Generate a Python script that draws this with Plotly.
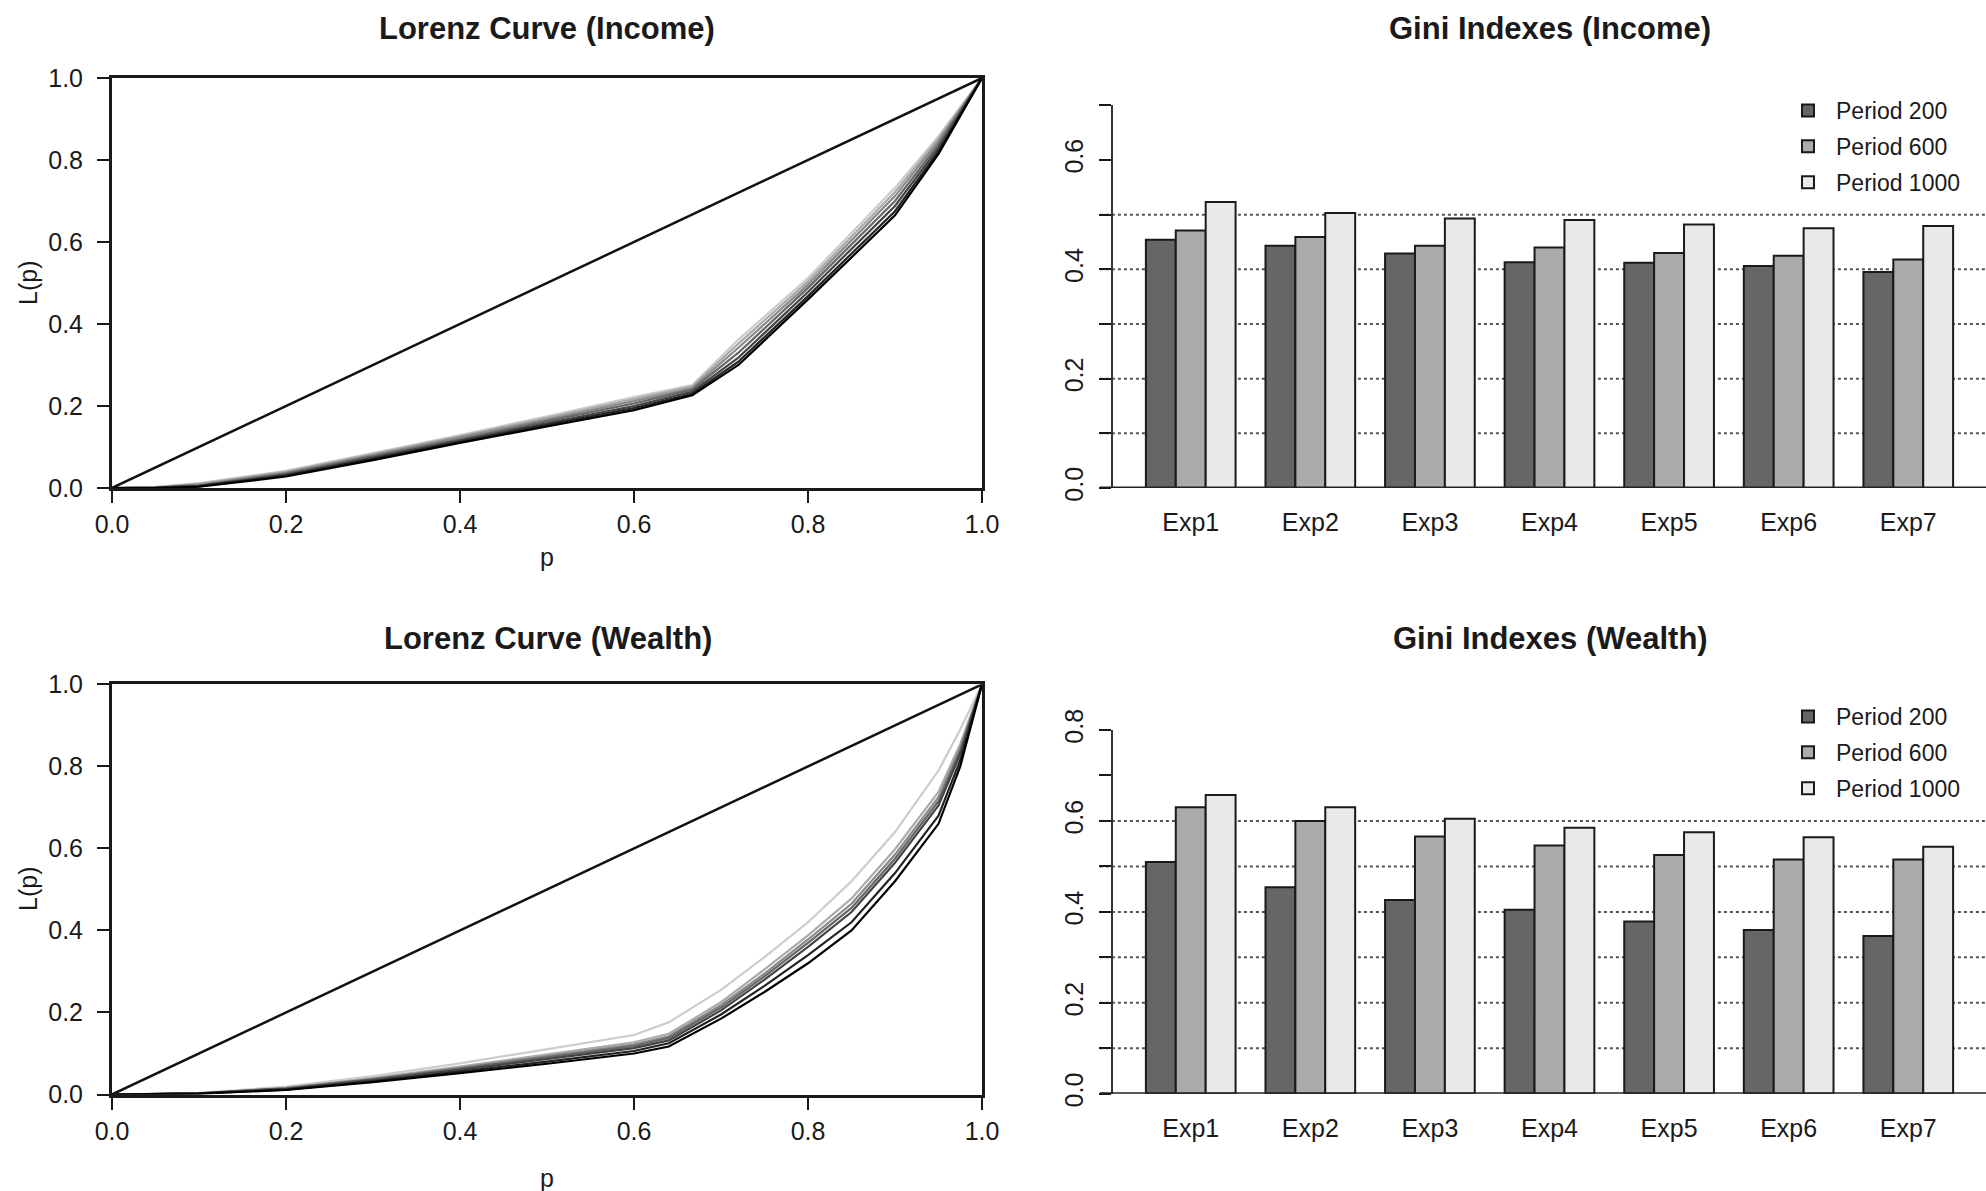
import plotly.graph_objects as go

W, H = 1986, 1191

# ---------------- data ----------------
EQUALITY_P = [0.0, 1.0]
EQUALITY_L = [0.0, 1.0]

P_INCOME = [0, 0.05, 0.1, 0.2, 0.3, 0.4, 0.5, 0.6, 0.667, 0.72, 0.8, 0.9, 0.95, 1.0]
L_INC_1 = [0, 0.000, 0.003, 0.028, 0.068, 0.110, 0.150, 0.190, 0.226, 0.300, 0.460, 0.665, 0.815, 1]
L_INC_2 = [0, 0.000, 0.004, 0.030, 0.071, 0.113, 0.154, 0.195, 0.230, 0.308, 0.468, 0.675, 0.822, 1]
L_INC_3 = [0, 0.001, 0.005, 0.032, 0.074, 0.116, 0.158, 0.200, 0.235, 0.318, 0.478, 0.688, 0.830, 1]
L_INC_4 = [0, 0.001, 0.006, 0.035, 0.077, 0.119, 0.163, 0.206, 0.240, 0.330, 0.488, 0.700, 0.838, 1]
L_INC_5 = [0, 0.001, 0.008, 0.037, 0.080, 0.123, 0.167, 0.212, 0.244, 0.342, 0.496, 0.712, 0.846, 1]
L_INC_6 = [0, 0.002, 0.010, 0.040, 0.083, 0.126, 0.171, 0.217, 0.248, 0.352, 0.504, 0.722, 0.852, 1]
L_INC_7 = [0, 0.002, 0.012, 0.042, 0.085, 0.129, 0.175, 0.222, 0.251, 0.362, 0.512, 0.732, 0.858, 1]

P_WEALTH = [0, 0.1, 0.2, 0.3, 0.4, 0.5, 0.6, 0.64, 0.7, 0.75, 0.8, 0.85, 0.9, 0.95, 0.975, 1.0]
L_WEA_1 = [0, 0.002, 0.011, 0.030, 0.052, 0.075, 0.100, 0.117, 0.185, 0.250, 0.320, 0.400, 0.520, 0.660, 0.800, 1]
L_WEA_2 = [0, 0.002, 0.012, 0.032, 0.056, 0.080, 0.106, 0.125, 0.195, 0.265, 0.340, 0.420, 0.540, 0.680, 0.815, 1]
L_WEA_3 = [0, 0.003, 0.014, 0.035, 0.060, 0.086, 0.113, 0.132, 0.205, 0.280, 0.360, 0.445, 0.565, 0.705, 0.830, 1]
L_WEA_4 = [0, 0.003, 0.015, 0.037, 0.063, 0.090, 0.118, 0.138, 0.212, 0.288, 0.370, 0.455, 0.575, 0.715, 0.838, 1]
L_WEA_5 = [0, 0.003, 0.015, 0.038, 0.065, 0.093, 0.122, 0.142, 0.218, 0.295, 0.378, 0.465, 0.585, 0.725, 0.845, 1]
L_WEA_6 = [0, 0.003, 0.016, 0.040, 0.068, 0.097, 0.127, 0.148, 0.225, 0.305, 0.388, 0.478, 0.598, 0.738, 0.855, 1]
L_WEA_7 = [0, 0.004, 0.019, 0.045, 0.076, 0.110, 0.145, 0.176, 0.255, 0.335, 0.420, 0.520, 0.640, 0.790, 0.890, 1]

EXPERIMENTS = ["Exp1", "Exp2", "Exp3", "Exp4", "Exp5", "Exp6", "Exp7"]
PERIODS = ["Period 200", "Period 600", "Period 1000"]
GINI_INC_P200 = [0.454, 0.443, 0.429, 0.413, 0.412, 0.406, 0.395]
GINI_INC_P600 = [0.471, 0.459, 0.443, 0.440, 0.430, 0.425, 0.418]
GINI_INC_P1000 = [0.523, 0.503, 0.493, 0.490, 0.482, 0.475, 0.479]
GINI_WEA_P200 = [0.510, 0.454, 0.426, 0.405, 0.379, 0.360, 0.347]
GINI_WEA_P600 = [0.630, 0.600, 0.566, 0.546, 0.525, 0.515, 0.515]
GINI_WEA_P1000 = [0.657, 0.630, 0.605, 0.585, 0.575, 0.564, 0.543]

# ---------------- styling ----------------
FONT = "Liberation Sans, Arial, Helvetica, sans-serif"
TXT = "#1a1a1a"
CURVE_GREYS = ["#cccccc", "#aaaaaa", "#888888", "#666666", "#444444", "#222222", "#000000"]
BAR_COLORS = ["#666666", "#ababab", "#e9e9e9"]


def px_x(v):
    return v / W


def px_y(v):
    return 1 - v / H


fig = go.Figure()

# Lorenz curves
inc_curves = [L_INC_7, L_INC_6, L_INC_5, L_INC_4, L_INC_3, L_INC_2, L_INC_1]
wea_curves = [L_WEA_7, L_WEA_6, L_WEA_5, L_WEA_4, L_WEA_3, L_WEA_2, L_WEA_1]
for xa, ya, pvals, curves in [("x", "y", P_INCOME, inc_curves), ("x3", "y3", P_WEALTH, wea_curves)]:
    for col, lv in zip(CURVE_GREYS, curves):
        fig.add_trace(go.Scatter(x=pvals, y=lv, mode="lines", xaxis=xa, yaxis=ya,
                                 line=dict(color=col, width=2.2), showlegend=False,
                                 hoverinfo="skip"))
    fig.add_trace(go.Scatter(x=EQUALITY_P, y=EQUALITY_L, mode="lines", xaxis=xa, yaxis=ya,
                             line=dict(color="#111111", width=2.5), showlegend=False,
                             hoverinfo="skip"))

# Gini bars
for xa, ya, leg, series in [("x2", "y2", "legend", [GINI_INC_P200, GINI_INC_P600, GINI_INC_P1000]),
                            ("x4", "y4", "legend2", [GINI_WEA_P200, GINI_WEA_P600, GINI_WEA_P1000])]:
    for name, col, vals in zip(PERIODS, BAR_COLORS, series):
        fig.add_trace(go.Bar(x=EXPERIMENTS, y=vals, name=name, xaxis=xa, yaxis=ya,
                             legend=leg, legendgroup=leg + name,
                             marker=dict(color=col, line=dict(color="#1a1a1a", width=2))))

tickfont = dict(family=FONT, size=25, color=TXT)

lorenz_x = dict(range=[0, 1], showline=True, mirror=True, linecolor="#1a1a1a", linewidth=3,
                ticks="outside", ticklen=12, tickwidth=2, tickcolor="#1a1a1a",
                tickvals=[0, 0.2, 0.4, 0.6, 0.8, 1.0], tickformat=".1f",
                tickfont=tickfont, showgrid=False, zeroline=False, automargin=False,
                ticklabelstandoff=0, domain=[px_x(112), px_x(982)])
lorenz_y = dict(range=[0, 1], showline=True, mirror=True, linecolor="#1a1a1a", linewidth=3,
                ticks="outside", ticklen=12, tickwidth=2, tickcolor="#1a1a1a",
                tickvals=[0, 0.2, 0.4, 0.6, 0.8, 1.0], tickformat=".1f",
                tickfont=tickfont, showgrid=False, zeroline=False, automargin=False,
                ticklabelstandoff=9)

bar_x = dict(type="category", range=[-0.65, 6.65], showline=False, ticks="",
             tickfont=tickfont, showgrid=False, zeroline=False, automargin=False,
             ticklabelstandoff=17, domain=[px_x(1113), 1.0])


def bar_y(top):
    n = int(round(top * 10))
    vals = [i / 10 for i in range(n + 1)]
    text = [("%.1f" % v) if i % 2 == 0 else "" for i, v in enumerate(vals)]
    return dict(range=[0, top], showline=True, linecolor="#333333", linewidth=2,
                ticks="outside", ticklen=12, tickwidth=2, tickcolor="#1a1a1a",
                tickvals=vals, ticktext=text, tickangle=-90,
                tickfont=tickfont, showgrid=False, zeroline=False, automargin=False,
                ticklabelstandoff=6)


legend_style = dict(xanchor="left", yanchor="top",
                    font=dict(family=FONT, size=23, color=TXT), bgcolor="rgba(0,0,0,0)",
                    itemwidth=46, tracegroupgap=3)

fig.update_layout(
    width=W, height=H,
    margin=dict(l=0, r=0, t=0, b=0, pad=0, autoexpand=False),
    paper_bgcolor="white", plot_bgcolor="white",
    font=dict(family=FONT, color=TXT),
    barmode="group", bargap=0.25, bargroupgap=0,
    xaxis=dict(lorenz_x, anchor="y"),
    yaxis=dict(lorenz_y, anchor="x", domain=[px_y(488), px_y(78)]),
    xaxis3=dict(lorenz_x, anchor="y3"),
    yaxis3=dict(lorenz_y, anchor="x3", domain=[px_y(1094.5), px_y(684.4)]),
    xaxis2=dict(bar_x, anchor="y2"),
    yaxis2=dict(bar_y(0.7), anchor="x2", domain=[px_y(488), px_y(105.3)]),
    xaxis4=dict(bar_x, anchor="y4"),
    yaxis4=dict(bar_y(0.8), anchor="x4", domain=[px_y(1093.8), px_y(730)]),
    legend=dict(legend_style, x=px_x(1780), y=px_y(89)),
    legend2=dict(legend_style, x=px_x(1780), y=px_y(695)),
)

# dotted reference lines and baselines in the bar panels
shapes = []
for xa, ya, levels in [("x2", "y2", [0.1, 0.2, 0.3, 0.4, 0.5]),
                       ("x4", "y4", [0.1, 0.2, 0.3, 0.4, 0.5, 0.6])]:
    for lv in levels:
        shapes.append(dict(type="line", xref=xa + " domain", yref=ya, x0=-0.015, x1=1,
                           y0=lv, y1=lv, layer="below",
                           line=dict(color="#555555", width=2, dash="3px,3px")))
    shapes.append(dict(type="line", xref=xa + " domain", yref=ya, x0=-0.015, x1=1,
                       y0=0, y1=0, layer="above",
                       line=dict(color="#222222", width=3)))
fig.update_layout(shapes=shapes)

# titles and axis labels
ann = []
for txt, x, y in [("Lorenz Curve (Income)", 547, 28.6), ("Gini Indexes (Income)", 1550, 28.6),
                  ("Lorenz Curve (Wealth)", 548, 638), ("Gini Indexes (Wealth)", 1550, 638)]:
    ann.append(dict(text="<b>%s</b>" % txt, x=px_x(x), y=px_y(y), xref="paper", yref="paper",
                    xanchor="center", yanchor="middle", showarrow=False,
                    font=dict(family=FONT, size=31, color=TXT)))
for y in [557, 1178]:
    ann.append(dict(text="p", x=px_x(547), y=px_y(y), xref="paper", yref="paper",
                    xanchor="center", yanchor="middle", showarrow=False,
                    font=dict(family=FONT, size=25, color=TXT)))
for y in [283, 889]:
    ann.append(dict(text="L(p)", x=px_x(28), y=px_y(y), xref="paper", yref="paper",
                    xanchor="center", yanchor="middle", showarrow=False, textangle=-90,
                    font=dict(family=FONT, size=25, color=TXT)))
fig.update_layout(annotations=ann)

fig.write_html("out.html")
